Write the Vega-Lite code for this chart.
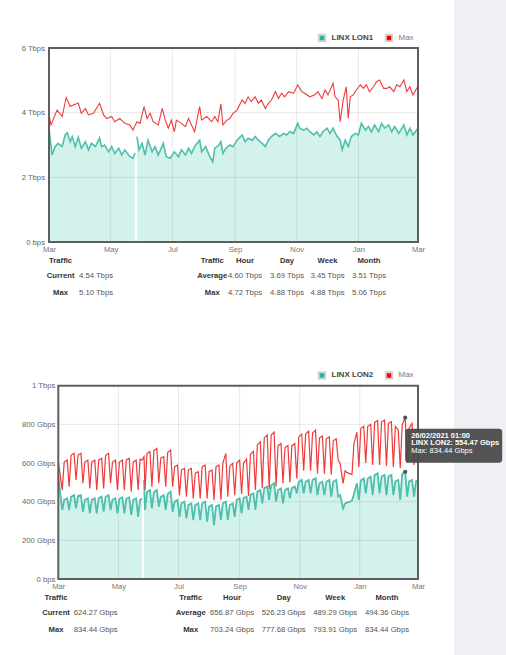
{
  "$schema": "https://vega.github.io/schema/vega-lite/v6.json",
  "background": "#eef0f4",
  "padding": {"left": 0, "top": 0, "right": 4, "bottom": 0},
  "spacing": 0,
  "config": {"font": "Liberation Sans", "view": {"stroke": null}},
  "resolve": {"scale": {"fill": "independent"}, "legend": {"fill": "independent"}},
  "datasets": {
    "lon1a": [
      {"d":"2020-03-11","v":3.52},{"d":"2020-03-14","v":2.69},{"d":"2020-03-17","v":2.95},{"d":"2020-03-20","v":3.05},
      {"d":"2020-03-24","v":2.95},{"d":"2020-03-27","v":3.31},{"d":"2020-03-29","v":3.38},{"d":"2020-04-01","v":3.10},
      {"d":"2020-04-03","v":3.26},{"d":"2020-04-06","v":2.95},{"d":"2020-04-09","v":3.24},{"d":"2020-04-12","v":2.90},
      {"d":"2020-04-16","v":3.10},{"d":"2020-04-19","v":2.85},{"d":"2020-04-22","v":3.05},{"d":"2020-04-26","v":2.95},
      {"d":"2020-04-30","v":3.21},{"d":"2020-05-02","v":2.95},{"d":"2020-05-05","v":3.00},{"d":"2020-05-09","v":2.79},
      {"d":"2020-05-12","v":2.95},{"d":"2020-05-15","v":2.74},{"d":"2020-05-19","v":2.90},{"d":"2020-05-22","v":2.69},
      {"d":"2020-05-25","v":2.85},{"d":"2020-05-30","v":2.64},{"d":"2020-06-02","v":2.59},{"d":"2020-06-04","v":2.75},
      {"d":"2020-06-05","v":null},{"d":"2020-06-06","v":3.26},{"d":"2020-06-08","v":2.85},{"d":"2020-06-11","v":3.05},
      {"d":"2020-06-14","v":2.69},{"d":"2020-06-17","v":3.15},{"d":"2020-06-21","v":2.79},{"d":"2020-06-24","v":2.95},
      {"d":"2020-06-27","v":2.69},{"d":"2020-07-02","v":3.05},{"d":"2020-07-05","v":2.64},{"d":"2020-07-09","v":2.59},
      {"d":"2020-07-13","v":2.79},{"d":"2020-07-17","v":2.64},{"d":"2020-07-20","v":2.85},{"d":"2020-07-24","v":2.69},
      {"d":"2020-07-27","v":2.90},{"d":"2020-07-30","v":2.74},{"d":"2020-08-02","v":2.95},{"d":"2020-08-07","v":3.15},
      {"d":"2020-08-09","v":2.79},{"d":"2020-08-13","v":2.95},{"d":"2020-08-17","v":2.64},{"d":"2020-08-20","v":2.48},
      {"d":"2020-08-22","v":2.90},{"d":"2020-08-26","v":3.00},{"d":"2020-08-28","v":3.10},{"d":"2020-08-30","v":2.74},
      {"d":"2020-09-02","v":2.90},{"d":"2020-09-06","v":3.00},{"d":"2020-09-09","v":2.95},{"d":"2020-09-13","v":3.15},
      {"d":"2020-09-18","v":3.31},{"d":"2020-09-21","v":3.10},{"d":"2020-09-24","v":3.21},{"d":"2020-09-28","v":3.15},
      {"d":"2020-10-01","v":3.26},{"d":"2020-10-04","v":3.15},{"d":"2020-10-08","v":3.05},{"d":"2020-10-11","v":2.95},
      {"d":"2020-10-14","v":3.15},{"d":"2020-10-17","v":3.26},{"d":"2020-10-21","v":3.36},{"d":"2020-10-25","v":3.26},
      {"d":"2020-10-29","v":3.36},{"d":"2020-11-01","v":3.31},{"d":"2020-11-04","v":3.41},{"d":"2020-11-08","v":3.36},
      {"d":"2020-11-12","v":3.67},{"d":"2020-11-14","v":3.52},{"d":"2020-11-18","v":3.46},{"d":"2020-11-21","v":3.52},
      {"d":"2020-11-24","v":3.41},{"d":"2020-11-28","v":3.31},{"d":"2020-12-01","v":3.41},{"d":"2020-12-04","v":3.26},
      {"d":"2020-12-07","v":3.41},{"d":"2020-12-11","v":3.52},{"d":"2020-12-14","v":3.36},{"d":"2020-12-17","v":3.52},
      {"d":"2020-12-21","v":3.26},{"d":"2020-12-24","v":3.15},{"d":"2020-12-26","v":2.85},{"d":"2020-12-29","v":3.15},
      {"d":"2021-01-01","v":2.95},{"d":"2021-01-04","v":3.26},{"d":"2021-01-08","v":3.36},{"d":"2021-01-11","v":3.31},
      {"d":"2021-01-14","v":3.67},{"d":"2021-01-18","v":3.46},{"d":"2021-01-21","v":3.57},{"d":"2021-01-24","v":3.41},
      {"d":"2021-01-27","v":3.62},{"d":"2021-01-31","v":3.41},{"d":"2021-02-03","v":3.67},{"d":"2021-02-06","v":3.52},
      {"d":"2021-02-10","v":3.62},{"d":"2021-02-13","v":3.41},{"d":"2021-02-16","v":3.57},{"d":"2021-02-20","v":3.36},
      {"d":"2021-02-25","v":3.62},{"d":"2021-02-28","v":3.31},{"d":"2021-03-03","v":3.52},{"d":"2021-03-06","v":3.31},
      {"d":"2021-03-11","v":3.52}
    ],
    "lon1m": [
      {"d":"2020-03-11","v":3.93},{"d":"2020-03-13","v":3.62},{"d":"2020-03-19","v":4.08},{"d":"2020-03-24","v":3.88},
      {"d":"2020-03-28","v":4.47},{"d":"2020-04-01","v":4.19},{"d":"2020-04-04","v":4.24},{"d":"2020-04-09","v":4.29},
      {"d":"2020-04-12","v":3.98},{"d":"2020-04-16","v":4.13},{"d":"2020-04-19","v":3.93},{"d":"2020-04-24","v":3.98},
      {"d":"2020-04-30","v":4.29},{"d":"2020-05-04","v":3.93},{"d":"2020-05-07","v":3.82},{"d":"2020-05-12","v":3.88},
      {"d":"2020-05-15","v":3.72},{"d":"2020-05-20","v":3.82},{"d":"2020-05-25","v":3.67},{"d":"2020-05-30","v":3.62},
      {"d":"2020-06-02","v":3.46},{"d":"2020-06-06","v":3.72},{"d":"2020-06-09","v":3.67},{"d":"2020-06-13","v":4.19},
      {"d":"2020-06-16","v":3.82},{"d":"2020-06-19","v":3.98},{"d":"2020-06-22","v":3.72},{"d":"2020-06-27","v":3.62},
      {"d":"2020-07-01","v":4.13},{"d":"2020-07-04","v":3.77},{"d":"2020-07-07","v":3.52},{"d":"2020-07-10","v":3.77},
      {"d":"2020-07-13","v":3.41},{"d":"2020-07-15","v":3.77},{"d":"2020-07-20","v":3.67},{"d":"2020-07-24","v":3.57},
      {"d":"2020-07-27","v":3.82},{"d":"2020-07-30","v":3.62},{"d":"2020-08-02","v":3.41},{"d":"2020-08-07","v":4.19},
      {"d":"2020-08-09","v":3.77},{"d":"2020-08-14","v":3.88},{"d":"2020-08-19","v":3.72},{"d":"2020-08-22","v":3.88},
      {"d":"2020-08-25","v":3.72},{"d":"2020-08-28","v":4.27},{"d":"2020-08-30","v":3.62},{"d":"2020-09-03","v":3.77},
      {"d":"2020-09-06","v":3.82},{"d":"2020-09-09","v":3.98},{"d":"2020-09-13","v":4.08},{"d":"2020-09-18","v":4.39},
      {"d":"2020-09-21","v":4.29},{"d":"2020-09-24","v":4.49},{"d":"2020-09-27","v":4.34},{"d":"2020-10-01","v":4.49},
      {"d":"2020-10-04","v":4.29},{"d":"2020-10-07","v":4.39},{"d":"2020-10-11","v":4.13},{"d":"2020-10-14","v":4.29},
      {"d":"2020-10-17","v":4.39},{"d":"2020-10-21","v":4.65},{"d":"2020-10-24","v":4.44},{"d":"2020-10-27","v":4.60},
      {"d":"2020-10-30","v":4.49},{"d":"2020-11-03","v":4.65},{"d":"2020-11-08","v":4.60},{"d":"2020-11-12","v":4.86},
      {"d":"2020-11-16","v":4.65},{"d":"2020-11-19","v":4.60},{"d":"2020-11-24","v":4.49},{"d":"2020-11-29","v":4.55},
      {"d":"2020-12-02","v":4.65},{"d":"2020-12-06","v":4.44},{"d":"2020-12-09","v":4.70},{"d":"2020-12-12","v":4.55},
      {"d":"2020-12-17","v":4.91},{"d":"2020-12-19","v":4.49},{"d":"2020-12-22","v":4.39},{"d":"2020-12-24","v":3.72},
      {"d":"2020-12-27","v":4.39},{"d":"2020-12-30","v":4.80},{"d":"2021-01-01","v":3.82},{"d":"2021-01-03","v":4.49},
      {"d":"2021-01-06","v":4.55},{"d":"2021-01-09","v":4.70},{"d":"2021-01-13","v":4.86},{"d":"2021-01-16","v":4.75},
      {"d":"2021-01-19","v":4.86},{"d":"2021-01-22","v":4.65},{"d":"2021-01-26","v":4.80},{"d":"2021-01-29","v":4.96},
      {"d":"2021-02-01","v":5.01},{"d":"2021-02-05","v":4.75},{"d":"2021-02-08","v":4.75},{"d":"2021-02-11","v":4.80},
      {"d":"2021-02-15","v":4.65},{"d":"2021-02-18","v":4.86},{"d":"2021-02-21","v":4.80},{"d":"2021-02-25","v":5.01},
      {"d":"2021-02-28","v":4.65},{"d":"2021-03-03","v":4.80},{"d":"2021-03-06","v":4.55},{"d":"2021-03-11","v":4.82}
    ],
    "lon2": [
      {"d":"2020-03-11","a":529,"m":607},
      {"d":"2020-03-15","a":357,"m":460},{"d":"2020-03-17","a":409,"m":605},{"d":"2020-03-20","a":417,"m":615},
      {"d":"2020-03-22","a":357,"m":478},{"d":"2020-03-24","a":425,"m":640},{"d":"2020-03-27","a":434,"m":650},
      {"d":"2020-03-29","a":365,"m":512},{"d":"2020-03-31","a":430,"m":640},{"d":"2020-04-03","a":434,"m":650},
      {"d":"2020-04-05","a":348,"m":495},{"d":"2020-04-07","a":410,"m":605},{"d":"2020-04-10","a":417,"m":615},
      {"d":"2020-04-12","a":340,"m":469},{"d":"2020-04-14","a":410,"m":605},{"d":"2020-04-17","a":417,"m":615},
      {"d":"2020-04-19","a":340,"m":460},{"d":"2020-04-21","a":418,"m":615},{"d":"2020-04-24","a":426,"m":624},
      {"d":"2020-04-26","a":348,"m":469},{"d":"2020-04-28","a":425,"m":640},{"d":"2020-05-01","a":434,"m":650},
      {"d":"2020-05-03","a":357,"m":495},{"d":"2020-05-05","a":410,"m":605},{"d":"2020-05-08","a":417,"m":615},
      {"d":"2020-05-10","a":340,"m":460},{"d":"2020-05-12","a":415,"m":605},{"d":"2020-05-15","a":422,"m":615},
      {"d":"2020-05-17","a":340,"m":460},{"d":"2020-05-19","a":415,"m":615},{"d":"2020-05-22","a":422,"m":624},
      {"d":"2020-05-24","a":331,"m":452},{"d":"2020-05-26","a":410,"m":605},{"d":"2020-05-29","a":417,"m":615},
      {"d":"2020-05-31","a":322,"m":460},{"d":"2020-06-02","a":410,"m":620},{"d":"2020-06-04","a":417,"m":615},
      {"d":"2020-06-05","a":null,"m":624},{"d":"2020-06-06","a":512,"m":633},
      {"d":"2020-06-07","a":357,"m":460},{"d":"2020-06-09","a":450,"m":650},{"d":"2020-06-12","a":460,"m":659},
      {"d":"2020-06-14","a":365,"m":478},{"d":"2020-06-16","a":450,"m":665},{"d":"2020-06-19","a":460,"m":676},
      {"d":"2020-06-21","a":374,"m":495},{"d":"2020-06-23","a":425,"m":625},{"d":"2020-06-26","a":434,"m":633},
      {"d":"2020-06-28","a":357,"m":478},{"d":"2020-06-30","a":440,"m":655},{"d":"2020-07-03","a":452,"m":667},
      {"d":"2020-07-05","a":348,"m":478},{"d":"2020-07-07","a":400,"m":580},{"d":"2020-07-10","a":409,"m":590},
      {"d":"2020-07-12","a":322,"m":434},{"d":"2020-07-14","a":392,"m":565},{"d":"2020-07-17","a":400,"m":572},
      {"d":"2020-07-19","a":314,"m":426},{"d":"2020-07-21","a":383,"m":565},{"d":"2020-07-24","a":391,"m":572},
      {"d":"2020-07-26","a":305,"m":417},{"d":"2020-07-28","a":383,"m":548},{"d":"2020-07-31","a":391,"m":555},
      {"d":"2020-08-02","a":305,"m":417},{"d":"2020-08-04","a":392,"m":580},{"d":"2020-08-07","a":400,"m":590},
      {"d":"2020-08-09","a":297,"m":417},{"d":"2020-08-11","a":375,"m":555},{"d":"2020-08-14","a":383,"m":564},
      {"d":"2020-08-16","a":279,"m":409},{"d":"2020-08-18","a":375,"m":580},{"d":"2020-08-21","a":383,"m":590},
      {"d":"2020-08-23","a":305,"m":409},{"d":"2020-08-25","a":392,"m":600},{"d":"2020-08-28","a":400,"m":650},
      {"d":"2020-08-30","a":305,"m":426},{"d":"2020-09-01","a":383,"m":585},{"d":"2020-09-04","a":391,"m":598},
      {"d":"2020-09-06","a":322,"m":434},{"d":"2020-09-08","a":410,"m":600},{"d":"2020-09-11","a":417,"m":615},
      {"d":"2020-09-13","a":340,"m":440},{"d":"2020-09-15","a":420,"m":600},{"d":"2020-09-18","a":426,"m":620},
      {"d":"2020-09-20","a":357,"m":430},{"d":"2020-09-22","a":435,"m":645},{"d":"2020-09-25","a":443,"m":660},
      {"d":"2020-09-27","a":357,"m":460},{"d":"2020-09-29","a":452,"m":695},{"d":"2020-10-02","a":460,"m":710},
      {"d":"2020-10-04","a":391,"m":470},{"d":"2020-10-06","a":470,"m":730},{"d":"2020-10-09","a":478,"m":745},
      {"d":"2020-10-11","a":409,"m":465},{"d":"2020-10-13","a":485,"m":745},{"d":"2020-10-16","a":495,"m":760},
      {"d":"2020-10-18","a":400,"m":480},{"d":"2020-10-20","a":460,"m":690},{"d":"2020-10-23","a":469,"m":700},
      {"d":"2020-10-25","a":391,"m":495},{"d":"2020-10-27","a":460,"m":680},{"d":"2020-10-30","a":469,"m":690},
      {"d":"2020-11-01","a":417,"m":500},{"d":"2020-11-03","a":470,"m":690},{"d":"2020-11-06","a":478,"m":700},
      {"d":"2020-11-08","a":443,"m":520},{"d":"2020-11-10","a":503,"m":735},{"d":"2020-11-13","a":512,"m":750},
      {"d":"2020-11-15","a":443,"m":560},{"d":"2020-11-17","a":503,"m":750},{"d":"2020-11-20","a":512,"m":765},
      {"d":"2020-11-22","a":443,"m":560},{"d":"2020-11-24","a":512,"m":755},{"d":"2020-11-27","a":521,"m":770},
      {"d":"2020-11-29","a":434,"m":545},{"d":"2020-12-01","a":495,"m":730},{"d":"2020-12-04","a":503,"m":740},
      {"d":"2020-12-06","a":434,"m":545},{"d":"2020-12-08","a":503,"m":725},{"d":"2020-12-11","a":512,"m":735},
      {"d":"2020-12-13","a":426,"m":540},{"d":"2020-12-15","a":503,"m":715},{"d":"2020-12-18","a":512,"m":725},
      {"d":"2020-12-20","a":426,"m":615},{"d":"2020-12-22","a":434,"m":598},{"d":"2020-12-25","a":365,"m":495},
      {"d":"2020-12-27","a":391,"m":560},{"d":"2020-12-29","a":395,"m":550},{"d":"2021-01-01","a":400,"m":545},
      {"d":"2021-01-03","a":405,"m":540},{"d":"2021-01-05","a":440,"m":700},{"d":"2021-01-08","a":495,"m":760},
      {"d":"2021-01-10","a":409,"m":580},{"d":"2021-01-12","a":510,"m":780},{"d":"2021-01-15","a":521,"m":790},
      {"d":"2021-01-17","a":443,"m":600},{"d":"2021-01-19","a":520,"m":790},{"d":"2021-01-22","a":529,"m":800},
      {"d":"2021-01-24","a":434,"m":590},{"d":"2021-01-26","a":538,"m":810},{"d":"2021-01-29","a":547,"m":820},
      {"d":"2021-01-31","a":443,"m":590},{"d":"2021-02-02","a":530,"m":812},{"d":"2021-02-05","a":538,"m":822},
      {"d":"2021-02-07","a":434,"m":585},{"d":"2021-02-09","a":530,"m":805},{"d":"2021-02-12","a":538,"m":814},
      {"d":"2021-02-14","a":434,"m":580},{"d":"2021-02-16","a":505,"m":790},{"d":"2021-02-19","a":512,"m":770},
      {"d":"2021-02-21","a":409,"m":575},{"d":"2021-02-23","a":545,"m":800},{"d":"2021-02-26","a":554.47,"m":834.44},
      {"d":"2021-02-28","a":426,"m":600},{"d":"2021-03-02","a":505,"m":780},{"d":"2021-03-05","a":512,"m":805},
      {"d":"2021-03-07","a":426,"m":590},{"d":"2021-03-09","a":505,"m":760},{"d":"2021-03-11","a":512,"m":770}
    ],
    "tbl1": [
      {"c":0,"r":0,"t":"Traffic"},
      {"c":2,"r":0,"t":"Traffic"},{"c":3,"r":0,"t":"Hour"},{"c":4,"r":0,"t":"Day"},{"c":5,"r":0,"t":"Week"},{"c":6,"r":0,"t":"Month"},
      {"c":0,"r":1,"t":"Current"},{"c":1,"r":1,"t":"4.54 Tbps"},{"c":2,"r":1,"t":"Average"},{"c":3,"r":1,"t":"4.60 Tbps"},
      {"c":4,"r":1,"t":"3.69 Tbps"},{"c":5,"r":1,"t":"3.45 Tbps"},{"c":6,"r":1,"t":"3.51 Tbps"},
      {"c":0,"r":2,"t":"Max"},{"c":1,"r":2,"t":"5.10 Tbps"},{"c":2,"r":2,"t":"Max"},{"c":3,"r":2,"t":"4.72 Tbps"},
      {"c":4,"r":2,"t":"4.88 Tbps"},{"c":5,"r":2,"t":"4.88 Tbps"},{"c":6,"r":2,"t":"5.06 Tbps"}
    ],
    "tbl2": [
      {"c":0,"r":0,"t":"Traffic"},
      {"c":2,"r":0,"t":"Traffic"},{"c":3,"r":0,"t":"Hour"},{"c":4,"r":0,"t":"Day"},{"c":5,"r":0,"t":"Week"},{"c":6,"r":0,"t":"Month"},
      {"c":0,"r":1,"t":"Current"},{"c":1,"r":1,"t":"624.27 Gbps"},{"c":2,"r":1,"t":"Average"},{"c":3,"r":1,"t":"656.87 Gbps"},
      {"c":4,"r":1,"t":"526.23 Gbps"},{"c":5,"r":1,"t":"489.29 Gbps"},{"c":6,"r":1,"t":"494.36 Gbps"},
      {"c":0,"r":2,"t":"Max"},{"c":1,"r":2,"t":"834.44 Gbps"},{"c":2,"r":2,"t":"Max"},{"c":3,"r":2,"t":"703.24 Gbps"},
      {"c":4,"r":2,"t":"777.68 Gbps"},{"c":5,"r":2,"t":"793.91 Gbps"},{"c":6,"r":2,"t":"834.44 Gbps"}
    ],
    "hover2": [
      {"d":"2021-02-26","v":834.44},{"d":"2021-02-26","v":554.47}
    ]
  },
  "vconcat": [
    {
      "width": 454,
      "height": 327,
      "view": {"fill": "#ffffff", "stroke": null},
      "resolve": {"scale": {"x": "independent", "y": "independent"}},
      "layer": [
        {
          "layer": [
            {
              "data": {"name": "lon1a"},
              "mark": {"type": "area", "color": "#d4f2ec", "invalid": "break-paths-filter-domains"},
              "encoding": {
                "x": {
                  "field": "d", "type": "temporal",
                  "scale": {"type": "utc", "domain": [{"year": 2020, "month": 3, "date": 11, "utc": true}, {"year": 2021, "month": 3, "date": 11, "utc": true}], "range": [49, 418]},
                  "axis": {
                    "values": [
                      {"year": 2020, "month": 3, "date": 11, "utc": true}, {"year": 2020, "month": 5, "date": 11, "utc": true},
                      {"year": 2020, "month": 7, "date": 11, "utc": true}, {"year": 2020, "month": 9, "date": 11, "utc": true},
                      {"year": 2020, "month": 11, "date": 11, "utc": true}, {"year": 2021, "month": 1, "date": 11, "utc": true},
                      {"year": 2021, "month": 3, "date": 11, "utc": true}
                    ],
                    "format": "%b", "labelFlush": false, "labelOverlap": false, "domain": false, "ticks": false, "grid": false,
                    "labelPadding": 3, "labelFontSize": 7.7, "labelColor": "#777777", "title": null, "offset": -85
                  }
                },
                "y": {
                  "field": "v", "type": "quantitative",
                  "scale": {"domain": [0, 6], "range": [242, 48], "nice": false, "zero": false},
                  "axis": {
                    "values": [0, 2, 4, 6],
                    "labelExpr": "datum.value == 0 ? '0 bps' : datum.value + ' Tbps'",
                    "domain": false, "ticks": false, "grid": false, "labelPadding": 4.5,
                    "labelFontSize": 7.7, "labelColor": "#666666", "title": null, "offset": -49
                  }
                }
              }
            },
            {
              "data": {"values": [{"d": "2020-05-11"}, {"d": "2020-07-11"}, {"d": "2020-09-11"}, {"d": "2020-11-11"}, {"d": "2021-01-11"}]},
              "mark": {"type": "rule", "color": "#000000", "opacity": 0.09},
              "encoding": {
                "x": {"field": "d", "type": "temporal"},
                "y": {"datum": 0, "type": "quantitative"},
                "y2": {"datum": 6}
              }
            },
            {
              "data": {"values": [{"v": 2}, {"v": 4}]},
              "mark": {"type": "rule", "color": "#000000", "opacity": 0.09},
              "encoding": {
                "y": {"field": "v", "type": "quantitative"},
                "x": {"datum": {"year": 2020, "month": 3, "date": 11, "utc": true}, "type": "temporal"},
                "x2": {"datum": {"year": 2021, "month": 3, "date": 11, "utc": true}}
              }
            },
            {
              "data": {"name": "lon1a"},
              "mark": {"type": "line", "color": "#4ebfac", "strokeWidth": 1.6, "invalid": "break-paths-filter-domains"},
              "encoding": {
                "x": {"field": "d", "type": "temporal"},
                "y": {"field": "v", "type": "quantitative"}
              }
            },
            {
              "data": {"name": "lon1m"},
              "mark": {"type": "line", "color": "#ef3b3b", "strokeWidth": 1.1},
              "encoding": {
                "x": {"field": "d", "type": "temporal"},
                "y": {"field": "v", "type": "quantitative"}
              }
            },
            {
              "data": {"values": [{}]},
              "mark": {"type": "rect", "filled": false, "stroke": "#5e5e5e", "strokeWidth": 2},
              "encoding": {
                "x": {"datum": {"year": 2020, "month": 3, "date": 11, "utc": true}, "type": "temporal"},
                "x2": {"datum": {"year": 2021, "month": 3, "date": 11, "utc": true}},
                "y": {"datum": 0, "type": "quantitative"},
                "y2": {"datum": 6}
              }
            },
            {
              "data": {"values": [{"s": "LINX LON1"}, {"s": "Max"}]},
              "mark": {"type": "square", "opacity": 0},
              "encoding": {
                "x": {"datum": {"year": 2020, "month": 3, "date": 11, "utc": true}, "type": "temporal"},
                "y": {"datum": 0, "type": "quantitative"},
                "fill": {
                  "field": "s", "type": "nominal",
                  "scale": {"domain": ["LINX LON1", "Max"], "range": ["#22b89d", "#ff0000"]},
                  "legend": {
                    "orient": "none", "legendX": 317.5, "legendY": 33.3, "direction": "horizontal", "title": null,
                    "symbolType": "square", "symbolSize": 42, "symbolStrokeColor": "#d4d4d4", "symbolStrokeWidth": 2,
                    "symbolOpacity": 1, "labelFontSize": 8, "labelOffset": 5, "columnPadding": 8, "padding": 0,
                    "labelColor": {"expr": "datum.value == 'Max' ? '#7a7a7a' : '#444444'"},
                    "labelFontWeight": {"expr": "datum.value == 'Max' ? 'normal' : 'bold'"}
                  }
                }
              }
            }
          ]
        },
        {
          "data": {"name": "tbl1"},
          "encoding": {
            "x": {"field": "c", "type": "quantitative", "axis": null, "scale": {"domain": [0, 1, 2, 3, 4, 5, 6], "range": [60.6, 96, 212.3, 245, 287, 327.5, 369], "nice": false, "zero": false}},
            "y": {"field": "r", "type": "quantitative", "axis": null, "scale": {"domain": [0, 1, 2], "range": [260.7, 276.2, 292.8], "nice": false, "zero": false}}
          },
          "layer": [
            {
              "transform": [{"filter": "datum.r == 0 || datum.c == 0 || datum.c == 2"}],
              "mark": {"type": "text", "fontSize": 7.7, "fontWeight": "bold", "color": "#333333"},
              "encoding": {"text": {"field": "t"}}
            },
            {
              "transform": [{"filter": "datum.r > 0 && datum.c != 0 && datum.c != 2"}],
              "mark": {"type": "text", "fontSize": 7.7, "color": "#555555"},
              "encoding": {"text": {"field": "t"}}
            },
            {
              "data": {"values": [{}]},
              "mark": {"type": "rule", "color": "#555555", "strokeWidth": 1.3},
              "encoding": {"x": {"datum": -0.41}, "x2": {"datum": 1.565}, "y": {"datum": 0.4}}
            },
            {
              "data": {"values": [{}]},
              "mark": {"type": "rule", "color": "#555555", "strokeWidth": 1.3},
              "encoding": {"x": {"datum": 1.862}, "x2": {"datum": 6.571}, "y": {"datum": 0.45}}
            }
          ]
        }
      ]
    },
    {
      "width": 454,
      "height": 328,
      "view": {"fill": "#ffffff", "stroke": null},
      "resolve": {"scale": {"x": "independent", "y": "independent"}},
      "layer": [
        {
          "layer": [
            {
              "data": {"name": "lon2"},
              "mark": {"type": "area", "color": "#d4f2ec", "invalid": "break-paths-filter-domains"},
              "encoding": {
                "x": {
                  "field": "d", "type": "temporal",
                  "scale": {"type": "utc", "domain": [{"year": 2020, "month": 3, "date": 11, "utc": true}, {"year": 2021, "month": 3, "date": 11, "utc": true}], "range": [58.3, 418]},
                  "axis": {
                    "values": [
                      {"year": 2020, "month": 3, "date": 11, "utc": true}, {"year": 2020, "month": 5, "date": 11, "utc": true},
                      {"year": 2020, "month": 7, "date": 11, "utc": true}, {"year": 2020, "month": 9, "date": 11, "utc": true},
                      {"year": 2020, "month": 11, "date": 11, "utc": true}, {"year": 2021, "month": 1, "date": 11, "utc": true},
                      {"year": 2021, "month": 3, "date": 11, "utc": true}
                    ],
                    "format": "%b", "labelFlush": false, "labelOverlap": false, "domain": false, "ticks": false, "grid": false,
                    "labelPadding": 3.5, "labelFontSize": 7.7, "labelColor": "#777777", "title": null, "offset": -76
                  }
                },
                "y": {
                  "field": "a", "type": "quantitative",
                  "scale": {"domain": [0, 1000], "range": [252, 58.7], "nice": false, "zero": false},
                  "axis": {
                    "values": [0, 200, 400, 600, 800, 1000],
                    "labelExpr": "datum.value == 0 ? '0 bps' : (datum.value == 1000 ? '1 Tbps' : datum.value + ' Gbps')",
                    "domain": false, "ticks": false, "grid": false, "labelPadding": 3.5,
                    "labelFontSize": 7.7, "labelColor": "#666666", "title": null, "offset": -58.3
                  }
                }
              }
            },
            {
              "data": {"values": [{"d": "2020-05-11"}, {"d": "2020-07-11"}, {"d": "2020-09-11"}, {"d": "2020-11-11"}, {"d": "2021-01-11"}]},
              "mark": {"type": "rule", "color": "#000000", "opacity": 0.09},
              "encoding": {
                "x": {"field": "d", "type": "temporal"},
                "y": {"datum": 0, "type": "quantitative"},
                "y2": {"datum": 1000}
              }
            },
            {
              "data": {"values": [{"v": 200}, {"v": 400}, {"v": 600}, {"v": 800}]},
              "mark": {"type": "rule", "color": "#000000", "opacity": 0.09},
              "encoding": {
                "y": {"field": "v", "type": "quantitative"},
                "x": {"datum": {"year": 2020, "month": 3, "date": 11, "utc": true}, "type": "temporal"},
                "x2": {"datum": {"year": 2021, "month": 3, "date": 11, "utc": true}}
              }
            },
            {
              "data": {"name": "lon2"},
              "mark": {"type": "line", "color": "#4ebfac", "strokeWidth": 1.8, "invalid": "break-paths-filter-domains"},
              "encoding": {
                "x": {"field": "d", "type": "temporal"},
                "y": {"field": "a", "type": "quantitative"}
              }
            },
            {
              "data": {"name": "lon2"},
              "mark": {"type": "line", "color": "#ef3b3b", "strokeWidth": 1.2},
              "encoding": {
                "x": {"field": "d", "type": "temporal"},
                "y": {"field": "m", "type": "quantitative"}
              }
            },
            {
              "data": {"values": [{}]},
              "mark": {"type": "rect", "filled": false, "stroke": "#5e5e5e", "strokeWidth": 2},
              "encoding": {
                "x": {"datum": {"year": 2020, "month": 3, "date": 11, "utc": true}, "type": "temporal"},
                "x2": {"datum": {"year": 2021, "month": 3, "date": 11, "utc": true}},
                "y": {"datum": 0, "type": "quantitative"},
                "y2": {"datum": 1000}
              }
            },
            {
              "data": {"name": "hover2"},
              "mark": {"type": "point", "filled": true, "color": "#555555", "size": 18, "opacity": 1},
              "encoding": {
                "x": {"field": "d", "type": "temporal"},
                "y": {"field": "v", "type": "quantitative"}
              }
            },
            {
              "data": {"values": [{}]},
              "mark": {"type": "rect", "color": "#4a4a4a", "opacity": 0.95, "cornerRadius": 3, "x2Offset": 97, "yOffset": 11, "y2Offset": 45},
              "encoding": {
                "x": {"datum": {"year": 2021, "month": 2, "date": 26, "utc": true}, "type": "temporal"},
                "x2": {"datum": {"year": 2021, "month": 2, "date": 26, "utc": true}},
                "y": {"datum": 834.44, "type": "quantitative"},
                "y2": {"datum": 834.44}
              }
            },
            {
              "data": {"values": [{}]},
              "mark": {"type": "text", "align": "left", "baseline": "middle", "dx": 6, "dy": 17.8, "fontSize": 7.5, "fontWeight": "bold", "color": "#ffffff"},
              "encoding": {
                "x": {"datum": {"year": 2021, "month": 2, "date": 26, "utc": true}, "type": "temporal"},
                "y": {"datum": 834.44, "type": "quantitative"},
                "text": {"value": "26/02/2021 01:00"}
              }
            },
            {
              "data": {"values": [{}]},
              "mark": {"type": "text", "align": "left", "baseline": "middle", "dx": 6, "dy": 25.5, "fontSize": 7.5, "fontWeight": "bold", "color": "#ffffff"},
              "encoding": {
                "x": {"datum": {"year": 2021, "month": 2, "date": 26, "utc": true}, "type": "temporal"},
                "y": {"datum": 834.44, "type": "quantitative"},
                "text": {"value": "LINX LON2: 554.47 Gbps"}
              }
            },
            {
              "data": {"values": [{}]},
              "mark": {"type": "text", "align": "left", "baseline": "middle", "dx": 6, "dy": 33.2, "fontSize": 7.5, "color": "#ffffff"},
              "encoding": {
                "x": {"datum": {"year": 2021, "month": 2, "date": 26, "utc": true}, "type": "temporal"},
                "y": {"datum": 834.44, "type": "quantitative"},
                "text": {"value": "Max: 834.44 Gbps"}
              }
            },
            {
              "data": {"values": [{"s": "LINX LON2"}, {"s": "Max"}]},
              "mark": {"type": "square", "opacity": 0},
              "encoding": {
                "x": {"datum": {"year": 2020, "month": 3, "date": 11, "utc": true}, "type": "temporal"},
                "y": {"datum": 0, "type": "quantitative"},
                "fill": {
                  "field": "s", "type": "nominal",
                  "scale": {"domain": ["LINX LON2", "Max"], "range": ["#22b89d", "#ff0000"]},
                  "legend": {
                    "orient": "none", "legendX": 317.5, "legendY": 43.8, "direction": "horizontal", "title": null,
                    "symbolType": "square", "symbolSize": 42, "symbolStrokeColor": "#d4d4d4", "symbolStrokeWidth": 2,
                    "symbolOpacity": 1, "labelFontSize": 8, "labelOffset": 5, "columnPadding": 8, "padding": 0,
                    "labelColor": {"expr": "datum.value == 'Max' ? '#7a7a7a' : '#444444'"},
                    "labelFontWeight": {"expr": "datum.value == 'Max' ? 'normal' : 'bold'"}
                  }
                }
              }
            }
          ]
        },
        {
          "data": {"name": "tbl2"},
          "encoding": {
            "x": {"field": "c", "type": "quantitative", "axis": null, "scale": {"domain": [0, 1, 2, 3, 4, 5, 6], "range": [56, 95.7, 190.7, 232, 283.7, 335.2, 387], "nice": false, "zero": false}},
            "y": {"field": "r", "type": "quantitative", "axis": null, "scale": {"domain": [0, 1, 2], "range": [270.7, 285.7, 303], "nice": false, "zero": false}}
          },
          "layer": [
            {
              "transform": [{"filter": "datum.r == 0 || datum.c == 0 || datum.c == 2"}],
              "mark": {"type": "text", "fontSize": 7.7, "fontWeight": "bold", "color": "#333333"},
              "encoding": {"text": {"field": "t"}}
            },
            {
              "transform": [{"filter": "datum.r > 0 && datum.c != 0 && datum.c != 2"}],
              "mark": {"type": "text", "fontSize": 7.7, "color": "#555555"},
              "encoding": {"text": {"field": "t"}}
            },
            {
              "data": {"values": [{}]},
              "mark": {"type": "rule", "color": "#555555", "strokeWidth": 1.3},
              "encoding": {"x": {"datum": -0.353}, "x2": {"datum": 1.274}, "y": {"datum": 0.373}}
            },
            {
              "data": {"values": [{}]},
              "mark": {"type": "rule", "color": "#555555", "strokeWidth": 1.3},
              "encoding": {"x": {"datum": 1.842}, "x2": {"datum": 6.5}, "y": {"datum": 0.373}}
            }
          ]
        }
      ]
    }
  ]
}
